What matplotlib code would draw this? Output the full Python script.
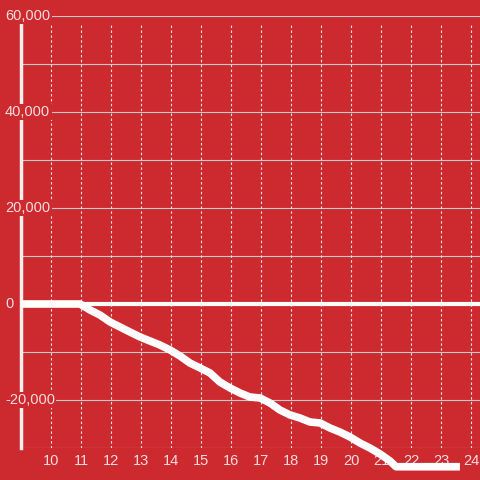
import numpy as np
import matplotlib
matplotlib.use('Agg')
import matplotlib.pyplot as plt
import matplotlib.transforms as mtransforms

matplotlib.rcParams['font.family'] = ['Liberation Sans', 'DejaVu Sans']

# hours and running balance
hours = [9, 10.97, 11.3, 11.63, 11.97, 12.3, 12.63, 12.97, 13.3, 13.63, 13.97,
         14.3, 14.63, 14.97, 15.3, 15.63, 15.97, 16.3, 16.63, 16.97, 17.3,
         17.63, 17.97, 18.3, 18.63, 18.97, 19.3, 19.63, 19.97, 20.3, 20.63,
         20.97, 21.3, 21.5, 23.63]
balance = [0, 0, -1250, -2290, -3750, -4790, -5830, -6875, -7710, -8540, -9580,
           -10830, -12290, -13330, -14375, -16250, -17500, -18540, -19375, -19580,
           -20625, -22080, -23125, -23750, -24580, -24790, -25830, -26670, -27710,
           -28960, -30000, -31250, -32700, -33900, -33900]

x_ticks = list(range(10, 25))
y_ticks = [-30000, -20000, -10000, 0, 10000, 20000, 30000, 40000, 50000, 60000]
y_labeled = [-20000, 0, 20000, 40000, 60000]

bg = '#cd2a2f'
txt = '#f6dcdc'

fig = plt.figure(figsize=(4.8, 4.8), dpi=100, facecolor=bg)
ax = fig.add_axes([21/480, 32/480, 459/480, 432/480])
ax.set_facecolor(bg)
ax.set_xlim(9, 24.3)
ax.set_ylim(-30000, 60000)

for s in ['top', 'right', 'bottom']:
    ax.spines[s].set_visible(False)
ax.spines['left'].set_color('#f4f0f0')
ax.spines['left'].set_linewidth(2.5)
ax.spines['left'].set_bounds(-30000, 58300)

# grid
for v in y_ticks:
    ax.axhline(v, color='#c9c9c9', lw=0.8, zorder=1)
ax.vlines(x_ticks, -30000, 58300, colors='#e4e4e4', lw=0.8,
          linestyles=(0, (2.2, 2.2)), zorder=1)

ax.axhline(0, color='white', lw=3, zorder=2)
ax.plot(hours, balance, color='white', lw=5.5, solid_joinstyle='round',
        solid_capstyle='butt', clip_on=False, zorder=3)

ax.set_xticks([])
ax.set_yticks([])

trans = mtransforms.blended_transform_factory(fig.transFigure, ax.transData)
for v in y_labeled:
    ax.text(5/480, v, f'{v:,}', transform=trans, ha='left', va='center',
            fontsize=10.5, color=txt, zorder=4,
            bbox=dict(facecolor=bg, edgecolor='none', pad=1))

transx = mtransforms.blended_transform_factory(ax.transData, ax.transAxes)
for t in x_ticks:
    ax.text(t, -13/432, str(t), transform=transx, ha='center', va='center',
            fontsize=10.5, color=txt, zorder=2)

fig.savefig('out.png', dpi=100, facecolor=bg)
